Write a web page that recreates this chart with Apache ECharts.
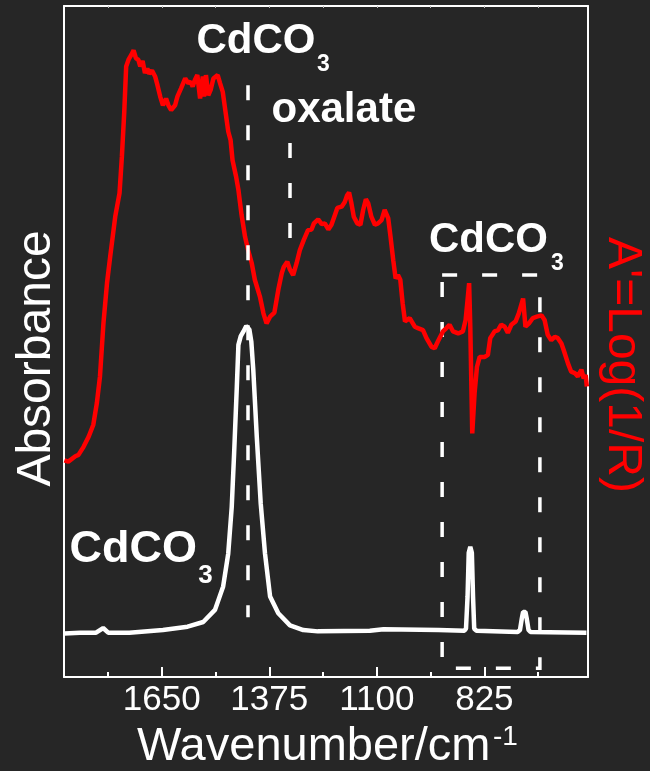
<!DOCTYPE html>
<html>
<head>
<meta charset="utf-8">
<script src="https://cdn.jsdelivr.net/npm/echarts@6/dist/echarts.min.js"></script>
<style>
  html, body { margin: 0; padding: 0; background: #262626; }
  #chart { width: 650px; height: 771px; }
</style>
</head>
<body>
<div id="chart"></div>
<script>
// Log(1/R) spectrum (red), [wavenumber, value]
const redSpectrum = [
  [1899,0.323],[1889,0.321],[1871,0.329],[1863,0.331],[1850,0.343],[1837,0.358],[1825,0.376],[1816,0.408],[1808,0.448],[1799,0.528],
  [1790,0.587],[1782,0.626],[1769,0.686],[1758,0.721],[1752,0.775],[1746,0.841],[1741,0.910],[1735,0.920],[1728,0.927],[1722,0.934],
  [1716,0.922],[1710,0.920],[1705,0.910],[1699,0.918],[1693,0.900],[1687,0.907],[1682,0.899],[1675,0.904],[1667,0.895],[1661,0.882],
  [1654,0.865],[1647,0.852],[1639,0.862],[1633,0.852],[1626,0.845],[1616,0.852],[1610,0.865],[1601,0.877],[1590,0.892],[1582,0.885],
  [1576,0.887],[1571,0.880],[1565,0.890],[1559,0.897],[1552,0.862],[1545,0.895],[1542,0.865],[1537,0.897],[1531,0.867],[1525,0.875],
  [1518,0.892],[1514,0.890],[1507,0.897],[1501,0.885],[1494,0.872],[1490,0.855],[1484,0.830],[1480,0.813],[1474,0.800],[1469,0.770],
  [1460,0.746],[1454,0.726],[1446,0.689],[1437,0.656],[1429,0.636],[1420,0.617],[1412,0.592],[1399,0.567],[1390,0.542],[1382,0.527],
  [1373,0.537],[1362,0.543],[1352,0.577],[1343,0.602],[1338,0.611],[1329,0.619],[1322,0.607],[1314,0.599],[1305,0.617],[1297,0.636],
  [1287,0.651],[1276,0.666],[1267,0.667],[1261,0.676],[1250,0.682],[1241,0.675],[1233,0.676],[1224,0.667],[1216,0.674],[1207,0.689],
  [1201,0.699],[1190,0.701],[1182,0.708],[1176,0.718],[1171,0.722],[1165,0.706],[1159,0.686],[1150,0.676],[1142,0.674],[1135,0.696],
  [1128,0.712],[1122,0.706],[1114,0.686],[1105,0.674],[1097,0.676],[1088,0.681],[1080,0.696],[1071,0.684],[1065,0.656],[1058,0.621],
  [1052,0.594],[1046,0.599],[1040,0.592],[1034,0.557],[1028,0.530],[1016,0.535],[1003,0.522],[995,0.520],[982,0.517],[973,0.505],
  [960,0.492],[952,0.490],[944,0.500],[931,0.515],[922,0.520],[914,0.525],[905,0.515],[892,0.512],[880,0.515],[873,0.532],
  [868,0.562],[864,0.587],[861,0.522],[856,0.363],[850,0.423],[844,0.462],[837,0.477],[824,0.477],[816,0.480],[810,0.505],
  [799,0.515],[790,0.517],[782,0.525],[773,0.522],[765,0.513],[756,0.525],[745,0.530],[737,0.542],[726,0.564],[720,0.522],
  [711,0.527],[701,0.535],[691,0.537],[679,0.539],[671,0.532],[663,0.510],[654,0.502],[645,0.507],[637,0.505],[628,0.497],
  [622,0.487],[611,0.467],[603,0.455],[594,0.453],[586,0.448],[577,0.458],[571,0.445],[566,0.450],[563,0.433]
]

// absorbance spectrum of CdCO3 (white)
const whiteSpectrum = [
  [1899,0.065],[1859,0.066],[1818,0.066],[1800,0.073],[1787,0.066],[1733,0.066],[1647,0.070],[1584,0.075],[1544,0.082],[1514,0.100],
  [1493,0.135],[1480,0.184],[1471,0.254],[1465,0.333],[1458,0.433],[1454,0.495],[1448,0.508],[1441,0.515],[1434,0.523],[1430,0.525],
  [1426,0.518],[1421,0.500],[1416,0.458],[1407,0.358],[1397,0.259],[1386,0.184],[1373,0.120],[1352,0.095],[1322,0.077],[1288,0.070],
  [1251,0.068],[1118,0.069],[1083,0.071],[942,0.070],[876,0.069],[872,0.072],[868,0.120],[865,0.185],[861,0.194],[857,0.185],
  [854,0.120],[851,0.072],[845,0.069],[740,0.067],[734,0.070],[729,0.088],[726,0.097],[723,0.098],[720,0.097],[717,0.088],
  [712,0.070],[707,0.067],[564,0.066]
]

const majorTicks = [1650, 1375, 1100, 825]
const minorTicks = [1787.5, 1512.5, 1237.5, 962.5, 687.5]

// annotation positions in data units
const carbonateLine = [1430, 0.882, 0.089] // x, top, bottom
const oxalateLine = [1322, 0.796, 0.654]
const carbonateBox = [933, 0.599, 683, 0.013] // x1, y1, x2, y2

const FONT = '"Liberation Sans", Arial, sans-serif'
const dash = [15, 25]

const chart = echarts.init(document.getElementById('chart'))

const txt = (text, x, y, size, opts = {}) => ({
  type: 'text',
  x,
  y,
  rotation: opts.rotation || 0,
  silent: true,
  style: {
    text,
    fill: opts.color || '#fff',
    font: `${opts.bold ? 'bold ' : ''}${size}px ${FONT}`,
    textAlign: opts.align || 'left',
    textVerticalAlign: 'middle',
    align: opts.align || 'left',
    verticalAlign: 'middle',
  },
})

chart.setOption({
  backgroundColor: '#262626',
  animation: false,
  grid: { left: 64, right: 62, top: 6, bottom: 94, outerBoundsMode: 'none' },
  xAxis: [
    {
      type: 'value',
      inverse: true,
      min: 560,
      max: 1900,
      position: 'bottom',
      axisLine: { onZero: false, lineStyle: { color: '#fff', width: 2 } },
      axisTick: { inside: true, length: 10, customValues: majorTicks, lineStyle: { color: '#fff', width: 2 } },
      axisLabel: {
        customValues: majorTicks,
        formatter: (v) => String(v),
        color: '#fff',
        fontSize: 35,
        fontFamily: FONT,
        margin: 6,
      },
      splitLine: { show: false },
    },
    {
      type: 'value',
      inverse: true,
      min: 560,
      max: 1900,
      position: 'bottom',
      axisLine: { show: false, onZero: false },
      axisTick: { inside: true, length: 5, customValues: minorTicks, lineStyle: { color: '#fff', width: 2 } },
      axisLabel: { show: false },
      splitLine: { show: false },
    },
    {
      type: 'value',
      inverse: true,
      min: 560,
      max: 1900,
      position: 'top',
      axisLine: { onZero: false, lineStyle: { color: '#fff', width: 2 } },
      axisTick: { inside: true, length: 2, customValues: majorTicks.concat(minorTicks), lineStyle: { color: '#bbb', width: 1 } },
      axisLabel: { show: false },
      splitLine: { show: false },
    },
  ],
  yAxis: [
    {
      type: 'value',
      min: 0,
      max: 1,
      position: 'left',
      axisLine: { show: true, onZero: false, lineStyle: { color: '#fff', width: 2 } },
      axisTick: { show: false },
      axisLabel: { show: false },
      splitLine: { show: false },
    },
    {
      type: 'value',
      min: 0,
      max: 1,
      position: 'right',
      axisLine: { show: true, onZero: false, lineStyle: { color: '#fff', width: 2 } },
      axisTick: { show: false },
      axisLabel: { show: false },
      splitLine: { show: false },
    },
  ],
  series: [
    {
      name: 'Absorbance',
      type: 'line',
      yAxisIndex: 0,
      data: whiteSpectrum,
      symbol: 'none',
      lineStyle: { color: '#fff', width: 4.5 },
      z: 3,
      markLine: {
        silent: true,
        symbol: ['none', 'none'],
        label: { show: false },
        lineStyle: { color: '#fff', width: 3.5, type: dash },
        data: [
          [{ coord: [carbonateLine[0], carbonateLine[1]] }, { coord: [carbonateLine[0], carbonateLine[2]] }],
          [{ coord: [oxalateLine[0], oxalateLine[1]] }, { coord: [oxalateLine[0], oxalateLine[2]] }],
        ],
      },
      markArea: {
        silent: true,
        itemStyle: { color: 'transparent', borderColor: '#fff', borderWidth: 3.5, borderType: dash },
        data: [[
          { xAxis: carbonateBox[0], yAxis: carbonateBox[1] },
          { xAxis: carbonateBox[2], yAxis: carbonateBox[3] },
        ]],
      },
    },
    {
      name: "A'=Log(1/R)",
      type: 'line',
      yAxisIndex: 1,
      data: redSpectrum,
      symbol: 'none',
      lineStyle: { color: '#ff0000', width: 4.5 },
      z: 4,
    },
  ],
  graphic: [
    txt('CdCO', 196.5, 41.7, 42, { bold: true }),
    txt('3', 317, 65, 23, { bold: true }),
    txt('oxalate', 271.5, 110.5, 42, { bold: true }),
    txt('CdCO', 429, 240, 42, { bold: true }),
    txt('3', 551, 263.5, 23, { bold: true }),
    txt('CdCO', 69.5, 550, 45, { bold: true }),
    txt('3', 198.3, 576, 26, { bold: true }),
    txt('Wavenumber/cm', 137, 747.5, 47),
    txt('-1', 493, 737.5, 28),
    txt('Absorbance', 36.5, 358.5, 48, { rotation: Math.PI / 2, align: 'center' }),
    txt("A'=Log(1/R)", 622, 365, 48, { rotation: -Math.PI / 2, align: 'center', color: '#ff0000' }),
  ],
})
</script>
</body>
</html>
